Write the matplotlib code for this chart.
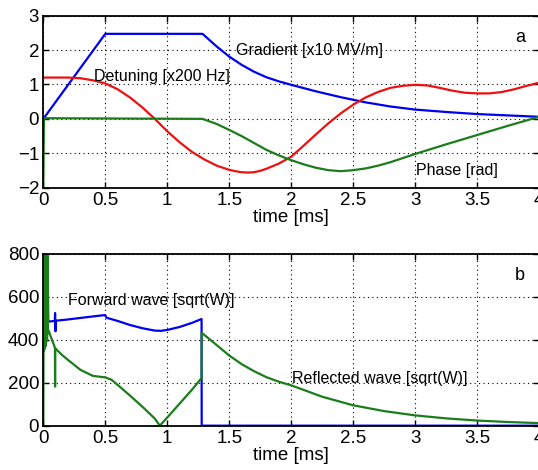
import matplotlib
matplotlib.use("Agg")
import matplotlib.pyplot as plt

plt.rcParams.update({
    "font.family": ["Liberation Sans", "DejaVu Sans"],
})

BLUE = "#0000f0"
RED = "#ee1010"
GREEN = "#1a7d1a"
W_PX, H_PX = 538, 470

# ---- panel a: gradient, detuning, phase ----
grad_t = [0, 0.5, 1.285, 1.35, 1.4, 1.5, 1.6, 1.7, 1.8, 1.9, 2.0, 2.2, 2.4,
          2.6, 2.8, 3.0, 3.25, 3.5, 3.75, 4.0]
grad_v = [0, 2.47, 2.47, 2.26, 2.1, 1.81, 1.57, 1.37, 1.21, 1.09, 0.99, 0.8,
          0.63, 0.48, 0.36, 0.27, 0.2, 0.14, 0.1, 0.06]

det_t = [0, 0.1, 0.2, 0.3, 0.4, 0.5, 0.6, 0.7, 0.8, 0.9, 1.0, 1.1, 1.2, 1.3,
         1.4, 1.5, 1.55, 1.6, 1.65, 1.7, 1.75, 1.8, 1.9, 2.0, 2.1, 2.2, 2.3,
         2.4, 2.5, 2.6, 2.7, 2.8, 2.9, 3.0, 3.1, 3.2, 3.3, 3.4, 3.5, 3.6,
         3.7, 3.8, 3.9, 4.0]
det_v = [1.2, 1.2, 1.2, 1.18, 1.12, 1.03, 0.86, 0.62, 0.33, 0.0, -0.36,
         -0.68, -0.96, -1.18, -1.36, -1.48, -1.52, -1.55, -1.56, -1.55,
         -1.51, -1.45, -1.3, -1.1, -0.78, -0.45, -0.13, 0.16, 0.41, 0.62,
         0.78, 0.9, 0.96, 0.99, 0.97, 0.9, 0.82, 0.76, 0.74, 0.74, 0.78, 0.86,
         0.96, 1.05]

phase_t = [0, 0.005, 0.6, 1.285, 1.4, 1.5, 1.6, 1.7, 1.8, 1.9, 2.0, 2.1, 2.2,
           2.3, 2.4, 2.5, 2.6, 2.7, 2.8, 2.9, 3.0, 3.25, 3.5, 3.75, 4.0]
phase_v = [-2.0, 0.02, 0.01, 0.0, -0.15, -0.32, -0.5, -0.7, -0.9, -1.06,
           -1.2, -1.32, -1.42, -1.49, -1.52, -1.49, -1.44, -1.36, -1.26, -1.14,
           -1.02, -0.74, -0.47, -0.2, 0.06]

# ---- panel b: forward and reflected waves ----
fwd_t = [0.036, 0.04, 0.093, 0.095, 0.098, 0.1, 0.2, 0.3, 0.4, 0.49, 0.5,
         0.51, 0.6, 0.7, 0.8, 0.9, 0.95, 1.0, 1.1, 1.2, 1.277, 1.278, 4.0]
fwd_v = [690, 485, 488, 525, 440, 489, 495, 502, 509, 515, 515, 503, 488,
         469, 454, 443, 442, 446, 460, 479, 497, 0, 0]

refl_t = [0, 0.003, 0.006, 0.009, 0.012, 0.015, 0.018, 0.021, 0.024, 0.027,
          0.03, 0.034, 0.038, 0.045, 0.06, 0.08, 0.094, 0.095, 0.096, 0.1,
          0.15, 0.2, 0.3, 0.4, 0.5, 0.55, 0.6, 0.7, 0.8, 0.9, 0.94, 1.0, 1.1,
          1.2, 1.277, 1.278, 1.4, 1.5, 1.6, 1.7, 1.8, 1.9, 2.0, 2.25, 2.5,
          2.75, 3.0, 3.25, 3.5, 3.75, 4.0]
refl_v = [0, 820, 350, 820, 360, 820, 370, 820, 390, 820, 400, 820, 430, 440,
          415, 385, 362, 182, 362, 358, 330, 306, 260, 232, 225, 214, 190,
          140, 88, 33, 0, 38, 103, 168, 222, 433, 375, 327, 287, 254, 226,
          205, 188, 135, 95, 68, 48, 34, 24, 17, 12]


def px_text(x, y, s, size=11.5):
    # place text by reference pixel position (left, vertical centre)
    fig.text(x / W_PX, 1 - y / H_PX, s, fontsize=size, va="center",
             ha="left")


fig = plt.figure(figsize=(W_PX / 100, H_PX / 100), dpi=100)
axa = fig.add_axes([0.0805, 0.6006, 0.9214, 0.3662])
axb = fig.add_axes([0.0805, 0.0943, 0.9214, 0.3653])

axa.plot(grad_t, grad_v, color=BLUE, lw=1.6)
axa.plot(det_t, det_v, color=RED, lw=1.6)
axa.plot(phase_t, phase_v, color=GREEN, lw=1.6)
axa.set_ylim(-2, 3)
axa.set_yticks([-2, -1, 0, 1, 2, 3])

axb.plot(fwd_t, fwd_v, color=BLUE, lw=1.6)
axb.plot(refl_t, refl_v, color=GREEN, lw=1.6)
axb.set_ylim(0, 800)
axb.set_yticks([0, 200, 400, 600, 800])

px_text(236, 50, "Gradient [x10 MV/m]")
px_text(94, 76, "Detuning [x200 Hz]")
px_text(416, 171, "Phase [rad]")
px_text(515, 37, "a", 13)
px_text(68, 301, "Forward wave [sqrt(W)]")
px_text(292, 379, "Reflected wave [sqrt(W)]")
px_text(515, 276, "b", 13)

for ax in (axa, axb):
    ax.set_xlim(0, 4)
    ax.set_xticks([0, 0.5, 1, 1.5, 2, 2.5, 3, 3.5, 4])
    ax.set_xticklabels(["0", "0.5", "1", "1.5", "2", "2.5", "3", "3.5", "4"])
    ax.set_xlabel("time [ms]", fontsize=13.5, labelpad=0)
    ax.grid(True, color="black", ls=(0, (1, 3)), lw=0.8)
    ax.tick_params(direction="in", length=4, width=1, top=True, right=True,
                   labelsize=13.5, pad=3)
    for s in ax.spines.values():
        s.set_linewidth(1.3)

fig.savefig("out.png", dpi=100, facecolor="white")
